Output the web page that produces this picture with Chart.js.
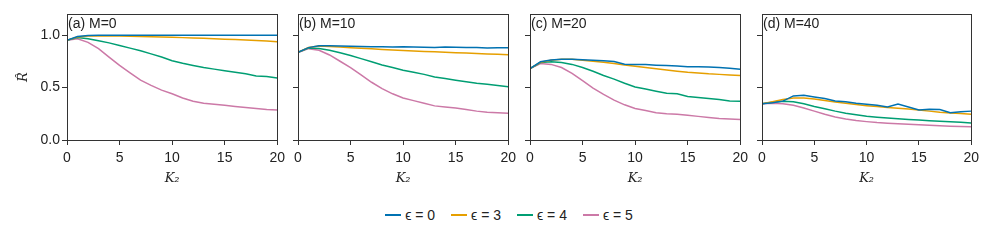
<!DOCTYPE html>
<html>
<head>
<meta charset="utf-8">
<script src="https://cdn.jsdelivr.net/npm/chart.js@4"></script>
<style>
  body { margin: 0; background: #fff; width: 987px; height: 246px; position: relative; overflow: hidden; }
  canvas { position: absolute; top: 0; }
  #legend { position: absolute; top: 207px; left: 0; width: 1018px; display: flex; justify-content: center;
            font: 14px "Liberation Sans", Arial, sans-serif; color: #222; }
  .item { display: flex; align-items: center; margin: 0 8px; }
  .swatch { width: 16px; height: 2px; margin-right: 4px; }
</style>
</head>
<body>
<canvas id="pa" width="290" height="190" style="left:0px"></canvas>
<canvas id="pb" width="235" height="190" style="left:286px"></canvas>
<canvas id="pc" width="235" height="190" style="left:518px"></canvas>
<canvas id="pd" width="234" height="190" style="left:750px"></canvas>
<div id="legend"></div>
<script>
/* ================= DATA ================= */

const k2 = [0,1,2,3,4,5,6,7,8,9,10,11,12,13,14,15,16,17,18,19,20];
const epsLabels = ["ϵ = 0", "ϵ = 3", "ϵ = 4", "ϵ = 5"];
const colors = ["#0072B2", "#E69F00", "#009E73", "#CC79A7"];
const panelTitles = ["(a) M=0", "(b) M=10", "(c) M=20", "(d) M=40"];
const yTicks = [0, 0.5, 1.0];

// M = 0
const m0_eps0 = [0.95,0.985,0.995,0.997,0.998,0.998,0.998,0.998,0.998,0.998,0.998,0.998,0.998,0.998,0.998,0.998,0.998,0.998,0.998,0.998,0.998];
const m0_eps3 = [0.95,0.98,0.99,0.99,0.99,0.99,0.988,0.986,0.984,0.981,0.978,0.975,0.972,0.968,0.964,0.96,0.956,0.952,0.947,0.942,0.936];
const m0_eps4 = [0.95,0.975,0.965,0.945,0.925,0.90,0.875,0.85,0.82,0.79,0.755,0.73,0.71,0.69,0.675,0.66,0.645,0.63,0.61,0.605,0.59];
const m0_eps5 = [0.95,0.965,0.93,0.87,0.79,0.71,0.64,0.57,0.52,0.475,0.44,0.40,0.37,0.35,0.34,0.33,0.32,0.31,0.30,0.29,0.285];

// M = 10
const m10_eps0 = [0.834,0.88,0.897,0.897,0.895,0.893,0.891,0.889,0.887,0.886,0.887,0.885,0.883,0.882,0.886,0.884,0.882,0.881,0.877,0.879,0.879];
const m10_eps3 = [0.834,0.88,0.895,0.89,0.885,0.879,0.874,0.868,0.863,0.857,0.852,0.848,0.844,0.84,0.836,0.832,0.828,0.824,0.82,0.816,0.812];
const m10_eps4 = [0.834,0.875,0.872,0.855,0.83,0.805,0.775,0.745,0.715,0.69,0.665,0.645,0.625,0.6,0.585,0.57,0.555,0.54,0.53,0.52,0.508];
const m10_eps5 = [0.834,0.87,0.855,0.81,0.75,0.69,0.62,0.55,0.49,0.44,0.40,0.375,0.35,0.325,0.315,0.305,0.29,0.275,0.265,0.26,0.255];

// M = 20
const m20_eps0 = [0.68,0.745,0.762,0.77,0.77,0.765,0.76,0.755,0.748,0.722,0.72,0.718,0.713,0.71,0.704,0.698,0.697,0.695,0.69,0.683,0.674];
const m20_eps3 = [0.68,0.74,0.76,0.77,0.768,0.76,0.75,0.74,0.728,0.715,0.702,0.69,0.678,0.667,0.655,0.645,0.638,0.63,0.625,0.62,0.615];
const m20_eps4 = [0.68,0.738,0.745,0.738,0.72,0.69,0.655,0.615,0.58,0.54,0.505,0.485,0.465,0.445,0.44,0.415,0.405,0.395,0.385,0.372,0.37];
const m20_eps5 = [0.68,0.728,0.72,0.69,0.635,0.565,0.495,0.435,0.38,0.335,0.30,0.28,0.26,0.25,0.245,0.235,0.225,0.215,0.205,0.20,0.195];

// M = 40
const m40_eps0 = [0.345,0.355,0.37,0.42,0.425,0.41,0.395,0.372,0.365,0.35,0.34,0.33,0.315,0.342,0.315,0.285,0.294,0.29,0.26,0.27,0.275];
const m40_eps3 = [0.345,0.365,0.385,0.40,0.40,0.39,0.377,0.363,0.35,0.337,0.327,0.318,0.31,0.303,0.295,0.285,0.275,0.265,0.258,0.252,0.245];
const m40_eps4 = [0.345,0.36,0.37,0.365,0.345,0.32,0.298,0.275,0.255,0.24,0.226,0.217,0.21,0.202,0.196,0.19,0.184,0.179,0.174,0.168,0.163];
const m40_eps5 = [0.345,0.35,0.345,0.33,0.305,0.275,0.245,0.22,0.20,0.186,0.175,0.166,0.16,0.155,0.15,0.145,0.14,0.136,0.132,0.129,0.126];

const panels = [
    [m0_eps0, m0_eps3, m0_eps4, m0_eps5],
    [m10_eps0, m10_eps3, m10_eps4, m10_eps5],
    [m20_eps0, m20_eps3, m20_eps4, m20_eps5],
    [m40_eps0, m40_eps3, m40_eps4, m40_eps5]
];

/* ================= STYLE ================= */

const sansFont = "'Liberation Sans', Arial, sans-serif";
const serifFont = "'DejaVu Serif', serif";
const ink = "#222";
const frameColor = "#333";

// frame round the plot area + panel caption
const framePlugin = {
    id: "frame",
    afterDraw(chart, args, opts) {
        const { ctx, chartArea: a } = chart;
        ctx.save();
        ctx.strokeStyle = frameColor;
        ctx.lineWidth = 1;
        ctx.strokeRect(Math.round(a.left) + 0.5, Math.round(a.top) + 0.5,
                       Math.round(a.width), Math.round(a.height));
        ctx.fillStyle = ink;
        ctx.font = "14px " + sansFont;
        ctx.textBaseline = "top";
        ctx.textAlign = "left";
        ctx.fillText(opts.text, a.left + 1, a.top + 3);
        ctx.restore();
    }
};

/* ================= BUILD ================= */

function buildPanel(id, idx) {

    const first = idx === 0;

    const datasets = panels[idx].map((vals, i) => ({
        label: epsLabels[i],
        data: vals.map((v, j) => ({ x: k2[j], y: v })),
        borderColor: colors[i],
        borderWidth: 1.5,
        pointRadius: 0,
        tension: 0
    }));

    return new Chart(document.getElementById(id), {
        type: "line",
        data: { datasets },
        plugins: [framePlugin],
        options: {
            responsive: false,
            animation: false,
            layout: { padding: { top: 14, right: 2, bottom: 0, left: 0 } },
            plugins: {
                legend: { display: false },
                tooltip: { enabled: false },
                frame: { text: panelTitles[idx] }
            },
            scales: {
                x: {
                    type: "linear",
                    min: 0, max: 20,
                    border: { display: false },
                    grid: { drawOnChartArea: false, drawTicks: true, tickLength: 5, color: frameColor },
                    ticks: { stepSize: 5, padding: 5, color: ink, font: { family: sansFont, size: 14 }, maxRotation: 0 },
                    title: {
                        display: true, text: "K₂", color: ink,
                        font: { family: serifFont, size: 13, style: "italic" },
                        padding: { top: 0, bottom: 4 }
                    },
                    afterFit: s => { s.height = 50; }
                },
                y: {
                    min: 0, max: 1.2,
                    border: { display: false },
                    grid: { drawOnChartArea: false, drawTicks: true, tickLength: 5, color: frameColor },
                    afterBuildTicks: s => { s.ticks = yTicks.map(v => ({ value: v })); },
                    ticks: {
                        padding: 2, color: ink, font: { family: sansFont, size: 14 },
                        callback: v => first ? v.toFixed(1) : ""
                    },
                    title: {
                        display: first, text: "R̂", color: ink,
                        font: { family: serifFont, size: 13, style: "italic" },
                        padding: { top: 16, bottom: 0 }
                    },
                    afterFit: s => { s.width = first ? 67 : 12; }
                }
            }
        }
    });
}

["pa", "pb", "pc", "pd"].forEach((id, i) => buildPanel(id, i));

/* ================= LEGEND ================= */

const legend = document.getElementById("legend");
epsLabels.forEach((lab, i) => {
    const item = document.createElement("div");
    item.className = "item";
    item.innerHTML = `<span class="swatch" style="background:${colors[i]}"></span><span>${lab}</span>`;
    legend.appendChild(item);
});
</script>
</body>
</html>
